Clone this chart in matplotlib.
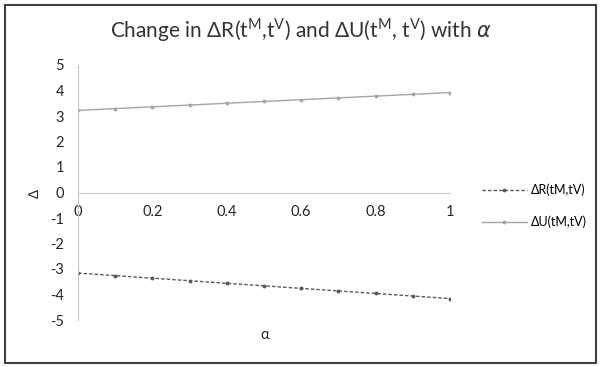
import numpy as np
import matplotlib.pyplot as plt

plt.rcParams['font.family'] = ['Lato', 'DejaVu Sans']

alpha = [0.0, 0.1, 0.2, 0.3, 0.4, 0.5, 0.6, 0.7, 0.8, 0.9, 1.0]
delta_r = [-3.16, -3.26, -3.36, -3.46, -3.56, -3.66, -3.76, -3.86, -3.96, -4.06, -4.16]
delta_u = [3.22, 3.29, 3.36, 3.43, 3.50, 3.57, 3.64, 3.71, 3.78, 3.85, 3.92]
xticks = [0, 0.2, 0.4, 0.6, 0.8, 1]
xticklabels = ['0', '0.2', '0.4', '0.6', '0.8', '1']
yticks = [-5, -4, -3, -2, -1, 0, 1, 2, 3, 4, 5]

fig = plt.figure(figsize=(6.01, 3.67), dpi=100)
ax = fig.add_axes([78 / 601, 1 - 320 / 367, 372 / 601, 255 / 367])

ax.plot(alpha, delta_r, color='#595959', lw=1, ls=(0, (2.5, 1.5)),
        marker='o', ms=1.8, label='ΔR(tM,tV)')
ax.plot(alpha, delta_u, color='#a6a6a6', lw=1, ls='-',
        marker='o', ms=1.8, label='ΔU(tM,tV)')

ax.set_xlim(0, 1)
ax.set_ylim(-5, 5)
ax.set_xticks(xticks)
ax.set_xticklabels(xticklabels)
ax.set_yticks(yticks)
ax.set_yticklabels([str(v) for v in yticks])

for s in ['top', 'right']:
    ax.spines[s].set_visible(False)
ax.spines['bottom'].set_position(('data', 0))
ax.spines['bottom'].set_color('#c8c8c8')
ax.spines['left'].set_color('#c8c8c8')
ax.tick_params(axis='both', length=0, labelsize=10.5, colors='#262626')
ax.tick_params(axis='x', pad=9)
ax.tick_params(axis='y', pad=10)

fig.text(265 / 601, 1 - 335 / 367, 'α', ha='center', va='center', fontsize=10.5, color='#262626')
fig.text(35 / 601, 1 - 194 / 367, 'Δ', ha='center', va='center', rotation=90,
         fontsize=9.5, color='#262626')

fig.suptitle(r'Change in ΔR(t$^{\mathregular{M}}$,t$^{\mathregular{V}}$) and ΔU(t$^{\mathregular{M}}$, t$^{\mathregular{V}}$) with $\alpha$',
             x=0.5, y=1 - 30 / 367, va='center', fontsize=15, color='#333333')

ax.legend(loc='center left', bbox_to_anchor=(1.086, 0.447), frameon=False,
          fontsize=9, handlelength=3.6, handletextpad=0.3, labelspacing=1.55,
          borderpad=0, borderaxespad=0)

# outer frame
fig.patches.append(plt.Rectangle((5 / 601, 4 / 367), 591 / 601, 358 / 367,
                                 transform=fig.transFigure, fill=False,
                                 edgecolor='#404040', lw=1.5))

fig.savefig('out.png', dpi=100)
